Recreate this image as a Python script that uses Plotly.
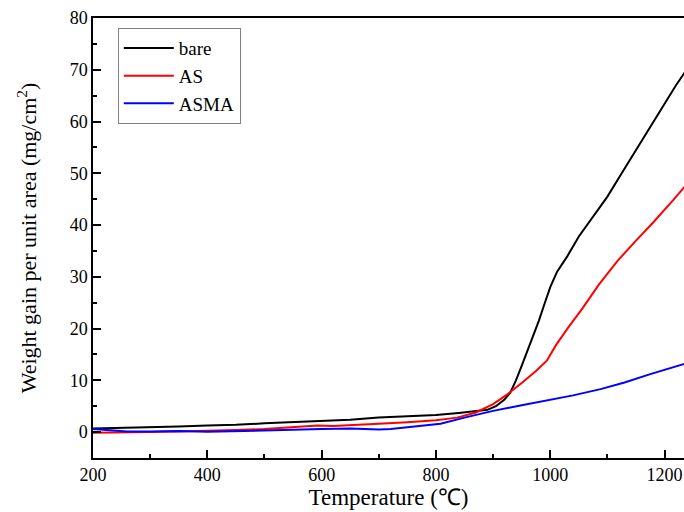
import plotly.graph_objects as go

# Temperature (°C) and weight gain (mg/cm^2)
bare_t = [200, 250, 300, 350, 400, 450, 500, 550, 600, 650, 700, 750, 800, 840, 870, 890, 905,
          920, 930, 940, 950, 960, 970, 980, 990, 1000, 1012, 1030, 1050, 1075, 1100, 1125,
          1150, 1175, 1200, 1220, 1236, 1250]
bare_w = [0.7, 0.8, 0.9, 1.1, 1.3, 1.4, 1.7, 1.9, 2.2, 2.4, 2.8, 3.0, 3.3, 3.7, 4.0, 4.3, 5.0,
          6.3, 7.6, 10.0, 12.8, 15.6, 18.4, 21.5, 24.8, 28.0, 31.0, 34.0, 37.8, 41.6, 45.5, 50.0,
          54.5, 59.0, 63.5, 67.0, 69.6, 72.0]

as_t = [200, 250, 300, 350, 400, 450, 500, 550, 593, 620, 650, 700, 750, 800, 837, 870, 900,
        925, 950, 975, 994, 1010, 1030, 1057, 1085, 1117, 1150, 1180, 1215, 1236, 1250]
as_w = [-0.1, -0.1, 0.0, 0.1, 0.2, 0.4, 0.6, 0.9, 1.3, 1.2, 1.4, 1.6, 1.9, 2.3, 2.8, 3.8, 5.4,
        7.3, 9.5, 11.8, 13.8, 16.8, 20.0, 24.0, 28.5, 33.0, 37.0, 40.5, 44.8, 47.5, 49.6]

asma_t = [200, 230, 260, 300, 350, 400, 450, 500, 550, 600, 650, 700, 721, 760, 808, 850, 880,
          900, 950, 1000, 1040, 1088, 1130, 1175, 1210, 1236, 1250]
asma_w = [0.6, 0.3, 0.1, 0.1, 0.2, 0.05, 0.2, 0.4, 0.5, 0.6, 0.7, 0.5, 0.6, 1.0, 1.6, 2.8, 3.6,
          4.1, 5.2, 6.2, 7.1, 8.3, 9.6, 11.2, 12.3, 13.2, 13.7]

series = [("bare", bare_t, bare_w, "black"),
          ("AS", as_t, as_w, "#ff0000"),
          ("ASMA", asma_t, asma_w, "#0000ff")]

x_ticks = [200, 400, 600, 800, 1000, 1200]
y_ticks = [0, 10, 20, 30, 40, 50, 60, 70, 80]

fig = go.Figure()
for name, t, w, c in series:
    fig.add_trace(go.Scatter(x=t, y=w, mode="lines", name=name,
                             line=dict(color=c, width=2)))

font = "Liberation Serif, Times New Roman, serif"
fig.update_layout(
    width=684, height=512,
    margin=dict(l=93, r=0, t=18, b=54),
    plot_bgcolor="white", paper_bgcolor="white",
    font=dict(family=font, size=18, color="black"),
    showlegend=True,
    legend=dict(x=0.042, y=0.977, xanchor="left", yanchor="top",
                bordercolor="#808080", borderwidth=1, bgcolor="white",
                font=dict(family=font, size=19), tracegroupgap=0,
                itemwidth=50),
)
fig.update_xaxes(
    automargin=False,
    range=[200, 1234], tickvals=x_ticks, ticktext=[str(v) for v in x_ticks],
    ticks="inside", ticklen=8, tickwidth=1.5, tickcolor="black",
    minor=dict(ticks="inside", ticklen=4, tickwidth=1.5, tickcolor="black", dtick=100, tick0=200),
    showline=True, linecolor="black", linewidth=1.5, mirror=True,
    showgrid=False, zeroline=False,
    tickfont=dict(family=font, size=18),
    title=dict(text="Temperature (℃)", font=dict(family=font, size=23), standoff=5),
)
fig.update_yaxes(
    automargin=False,
    range=[-5, 80], tickvals=y_ticks, ticktext=[str(v) for v in y_ticks],
    ticks="inside", ticklen=8, tickwidth=1.5, tickcolor="black",
    minor=dict(ticks="inside", ticklen=4, tickwidth=1.5, tickcolor="black", dtick=5, tick0=0),
    showline=True, linecolor="black", linewidth=1.5, mirror=False,
    showgrid=False, zeroline=False,
    tickfont=dict(family=font, size=18),
    title=dict(text="Weight gain per unit area (mg/cm<sup>2</sup>)",
               font=dict(family=font, size=22), standoff=27),
)

fig.write_html("out.html",
               config={"displayModeBar": False},
               post_script="document.body.style.margin='0';"
                           "document.documentElement.style.overflow='hidden';")
